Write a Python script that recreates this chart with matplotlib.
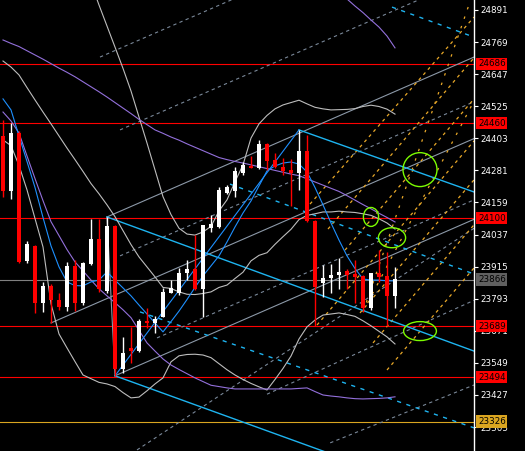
import matplotlib
matplotlib.use("Agg")
import matplotlib.pyplot as plt
from matplotlib.patches import Ellipse

# ---------------- data ----------------
opens  = [24412,24203,24423,23937,23994,23777,23842,23788,23762,23918,
          23777,23925,24020,23823,24070,23526,23606,23594,23709,23701,
          23724,23815,23815,23891,23906,23830,24062,24066,24195,24203,
          24271,24298,24290,24381,24321,24294,24283,24271,24355,24089,
          23853,23872,23883,23899,23887,23880,23758,23891,23880,23804]
highs  = [24473,24461,24430,24013,23998,23857,23849,23815,23933,23940,
          23933,24096,24096,24104,24073,23648,23686,23716,23758,23727,
          23834,23864,23910,23940,24035,24073,24112,24218,24226,24294,
          24313,24336,24397,24385,24347,24328,24324,24435,24416,24092,
          23921,23925,23948,23906,23940,23883,23891,23978,23971,23914]
lows   = [24180,24172,23929,23929,23739,23743,23701,23750,23747,23747,
          23769,23921,23819,23815,23500,23511,23549,23591,23682,23663,
          23724,23815,23807,23864,23826,23724,24047,24062,24190,24180,
          24264,24290,24285,24283,24290,24264,24146,24207,24085,23689,
          23800,23815,23830,23830,23777,23743,23750,23857,23689,23758]
closes = [24203,24423,23933,24001,23777,23842,23788,23762,23918,23777,
          23929,24020,23830,24070,23526,23587,23594,23709,23701,23716,
          23819,23834,23891,23906,23830,24073,24077,24207,24218,24279,
          24302,24290,24381,24317,24294,24279,24271,24355,24089,23838,
          23872,23883,23895,23883,23876,23758,23891,23876,23804,23868]

fast_ma = [24553,24511,24412,24315,24216,24102,23994,23914,23857,23843,
           23842,23857,23864,23895,23864,23834,23804,23769,23735,23701,
           23667,23706,23746,23790,23836,23880,23918,23956,24009,24066,
           24119,24165,24222,24279,24298,24309,24313,24305,24275,24216,
           24150,24081,24016,23956,23908,23868,23864,23864,23861,23861]
purple_mid = [24777,24764,24752,24736,24720,24704,24687,24670,24654,24637,
              24618,24599,24580,24560,24539,24518,24497,24475,24455,24435,
              24422,24408,24396,24382,24369,24356,24343,24330,24322,24315,
              24309,24302,24295,24288,24281,24274,24267,24261,24249,24237,
              24225,24213,24201,24185,24168,24151,24135,24118,24102,24085]
purple_low = [24503,24469,24423,24336,24250,24166,24086,24033,23980,23933,
              23899,23864,23831,23804,23778,23751,23721,23673,23625,23594,
              23564,23541,23524,23508,23492,23478,23464,23459,23454,23450,
              23450,23450,23450,23450,23450,23450,23450,23452,23454,23440,
              23427,23423,23420,23416,23413,23412,23413,23414,23416,23420]
purple_up_idx = [42,43,44,45,46,47,48,49]
purple_up = [24959,24933,24906,24881,24853,24826,24792,24747]

bb_up_idx = list(range(10, 50))
bb_up = [25081,24994,24910,24830,24750,24669,24583,24484,24385,24283,
         24181,24113,24061,24039,24035,24047,24068,24127,24169,24238,
         24302,24404,24458,24490,24515,24530,24539,24548,24534,24521,
         24515,24511,24512,24513,24516,24524,24529,24524,24514,24495]
bb_mid = [24697,24674,24644,24596,24549,24503,24458,24412,24366,24322,
          24277,24231,24192,24150,24105,24052,23999,23952,23914,23876,
          23836,23832,23819,23810,23809,23813,23819,23836,23845,23870,
          23894,23937,23958,23968,24000,24029,24057,24094,24110,24116,
          24123,24123,24126,24123,24121,24116,24110,24097,24081,24058]
bb_low = [24397,24375,24300,24207,24098,23990,23774,23659,23606,23554,
          23503,23489,23475,23469,23459,23436,23416,23419,23443,23469,
          23492,23553,23576,23581,23582,23579,23569,23546,23523,23503,
          23486,23471,23458,23446,23486,23528,23575,23640,23686,23712,
          23731,23735,23739,23733,23726,23709,23690,23669,23648,23621]

# horizontal levels: (price, line colour, label box colour)
level_prices = [24686, 24460, 24100, 23866, 23689, 23494, 23326]
level_colors = ["#FF0000", "#FF0000", "#FF0000", "#808080", "#FF0000", "#FF0000", "#DAA520"]
level_box    = ["#FF0000", "#FF0000", "#FF0000", "#606060", "#FF0000", "#FF0000", "#DAA520"]

tick_values = [24891, 24769, 24647, 24525, 24403, 24281, 24159, 24037,
               23915, 23793, 23671, 23549, 23427, 23305]

# trend lines: ((idx0, price0), (idx1, price1))
cyan_solid = [((37, 24435), (58.875, 24199)),
              ((13, 24104), (58.875, 23594)),
              ((14, 23500), (58.875, 23006))]
cyan_dashed = [((17.125, 23743), (58.875, 23302)),
               ((28.375, 24229), (58.875, 23887)),
               ((48.625, 24902), (58.875, 24788))]
zigzag = [(14, 23500), (37, 24435)]
gray_solid = [((13, 24104), (58.875, 24712)),
              ((14, 23500), (58.875, 24095)),
              ((6, 23701), (58.875, 24402)),
              ((13, 24104), (14, 23500))]
gray_dashed = [((12.125, 24712), (58.875, 25331)),
               ((14.625, 24435), (58.875, 25021)),
               ((14.625, 23956), (58.875, 24542)),
               ((19.25, 23644), (58.875, 24169)),
               ((16.75, 23218), (58.875, 24061)),
               ((33.0, 23430), (58.875, 23787)),
               ((40.9, 23245), (58.875, 23465))]
orange_dashed = [((38.375, 24153), (58.875, 24864)),
                 ((40.625, 24058), (58.875, 24709)),
                 ((42.75, 23978), (58.875, 24553)),
                 ((39.25, 23693), (58.875, 24393)),
                 ((44.625, 23739), (58.875, 24245)),
                 ((46.25, 23625), (58.875, 24074)),
                 ((48.0, 23522), (58.875, 23910))]
orange_sparse = [((45, 23743), (58.875, 24545)),
                 ((45, 23743), (58.45, 24929))]

# green ellipses: centre idx, centre price, width (candles), height (price)
ell_idx = [52.125, 46.0, 48.625, 52.125]
ell_price = [24284, 24104, 24025, 23670]
ell_w = [4.25, 1.9, 3.4, 4.1]
ell_h = [129, 72, 76, 72]

# ---------------- figure ----------------
W, H, DPI = 525, 451, 100
fig = plt.figure(figsize=(W / DPI, H / DPI), dpi=DPI, facecolor="black")
ax = fig.add_axes([0, 0, 474 / W, 1])
ax.set_facecolor("black")
ax.set_xlim(-0.375, 58.875)
ax.set_ylim(23214, 24929)

lw = 0.8

for p, c in zip(level_prices, level_colors):
    ax.axhline(p, color=c, lw=lw, zorder=1)

def seg(pair, **kw):
    (x0, y0), (x1, y1) = pair
    ax.plot([x0, x1], [y0, y1], **kw)

for s in gray_dashed:
    seg(s, color="#7A8899", lw=lw, ls=(0, (3, 3)), zorder=2)
for s in gray_solid:
    seg(s, color="#8C99A8", lw=lw, zorder=2)
for s in orange_dashed:
    seg(s, color="#E8A828", lw=0.9, ls=(0, (2.5, 3)), zorder=2)
for s in orange_sparse:
    seg(s, color="#E8A828", lw=0.9, ls=(0, (2, 6)), zorder=2)
for s in cyan_dashed:
    seg(s, color="#1EB4F0", lw=1.0, ls=(0, (3, 4)), zorder=2)
for s in cyan_solid:
    seg(s, color="#1EB4F0", lw=1.0, zorder=2)

idx = list(range(len(closes)))
ax.plot(idx, bb_mid, color="#BDBDBD", lw=lw, zorder=3)
ax.plot(bb_up_idx, bb_up, color="#BDBDBD", lw=lw, zorder=3)
ax.plot(idx, bb_low, color="#BDBDBD", lw=lw, zorder=3)
ax.plot(idx, purple_mid, color="#9370DB", lw=lw, zorder=3)
ax.plot(idx, purple_low, color="#9370DB", lw=lw, zorder=3)
ax.plot(purple_up_idx, purple_up, color="#9370DB", lw=lw, zorder=3)
ax.plot([p[0] for p in zigzag], [p[1] for p in zigzag], color="#1E90FF", lw=lw, zorder=3)
ax.plot(idx, fast_ma, color="#1E90FF", lw=lw, zorder=3)

# candles
for i, (o, h, l, c) in enumerate(zip(opens, highs, lows, closes)):
    col = "#FFFFFF" if c >= o else "#FF0000"
    ax.vlines(i, l, h, color=col, lw=1.0, zorder=4)
    body = max(abs(c - o), 4)
    ax.bar(i, body, bottom=min(o, c), width=0.62, color=col, lw=0, zorder=5)

for cx, cy, w, h in zip(ell_idx, ell_price, ell_w, ell_h):
    ax.add_patch(Ellipse((cx, cy), w, h, fill=False, ec="#7CFC00", lw=1.0, zorder=6))

# axes styling
for sp in ["top", "left", "bottom"]:
    ax.spines[sp].set_visible(False)
ax.spines["right"].set_color("white")
ax.spines["right"].set_linewidth(1.0)
ax.set_xticks([])
ax.yaxis.tick_right()
ax.set_yticks(tick_values)
ax.set_yticklabels([str(v) for v in tick_values])
ax.tick_params(axis="y", colors="white", length=3, width=0.8, pad=1.5,
               labelsize=6.3, direction="out")

for p, bc in zip(level_prices, level_box):
    ax.text(1.0085, p, str(p), transform=ax.get_yaxis_transform(),
            ha="left", va="center", fontsize=6.3, color="black", clip_on=False,
            bbox=dict(boxstyle="square,pad=0.18", fc=bc, ec="none"), zorder=10)

fig.savefig("out.png", dpi=DPI, facecolor="black")
